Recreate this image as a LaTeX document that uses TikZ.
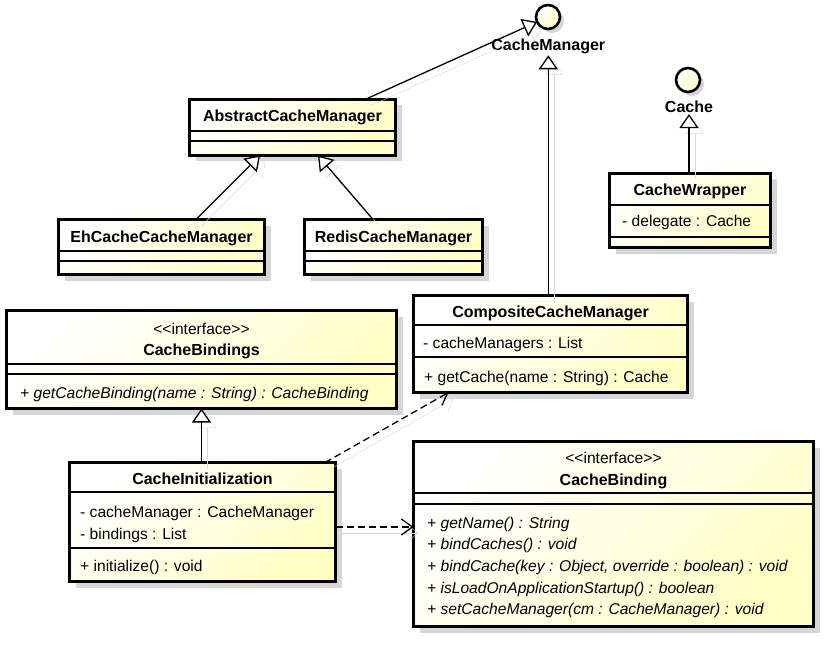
\documentclass[tikz,border=0pt]{standalone}
\usepackage{fontspec}
\setmainfont{Liberation Sans}
\usetikzlibrary{arrows.meta,shadows,backgrounds}
\definecolor{boxyel}{HTML}{FFFFC6}
\definecolor{shadowgray}{HTML}{D6D6D6}
\definecolor{connshadow}{HTML}{DADADA}
\begin{document}
\begin{tikzpicture}[x=1pt,y=-1pt,
  classbox/.style={draw, line width=3pt, inner sep=0pt, outer sep=0pt, anchor=north west,
    top color=white, bottom color=boxyel, shading angle=45,
    drop shadow={shadow xshift=6pt, shadow yshift=-6pt, fill=shadowgray, opacity=1}},
  iface/.style={circle, draw, line width=2.6pt, minimum size=24pt, inner sep=0pt, outer sep=0pt,
    top color=white, bottom color=boxyel, shading angle=45,
    drop shadow={shadow xshift=4pt, shadow yshift=-4pt, fill=shadowgray, opacity=1}},
  sepline/.style={line width=1.2pt},
  title/.style={font=\fontsize{16}{19}\selectfont\bfseries, inner sep=1pt, anchor=base},
  stereo/.style={font=\fontsize{15.6}{19}\selectfont, inner sep=0pt, anchor=base},
  attr/.style={font=\fontsize{15.6}{19}\selectfont, inner sep=0pt, anchor=base west},
  oper/.style={font=\fontsize{15.6}{19}\selectfont\itshape, inner sep=0pt, anchor=base west},
  connshadow/.style={preaction={draw=connshadow, solid, transform canvas={shift={(6pt,-6pt)}}}},
  gen/.style={line width=1.3pt, -{Triangle[length=14pt, width=19pt, line width=1.3pt, fill=white]}, connshadow},
  dep/.style={line width=1.3pt, dash pattern=on 7pt off 4pt, -{Straight Barb[length=11pt, width=16pt, line width=1.3pt]}, connshadow}
]
\useasboundingbox (0,0) rectangle (837,647);
\begin{scope}[on background layer]
  \fill[white] (0,0) rectangle (837,647);
\end{scope}

% interfaces (lollipops)
\node[iface] (cm) at (548,17) {};
\node[title] (cmlbl) at (548.3,50.7) {CacheManager};
\node[iface] (cache) at (688,80) {};
\node[title] (cachelbl) at (689,112.7) {Cache};

% AbstractCacheManager
\node[classbox, minimum width=206pt, minimum height=56pt] (abs) at (189.5,99.5) {};
\draw[sepline] (abs.west |- 0,131) -- (abs.east |- 0,131);
\draw[sepline] (abs.west |- 0,141) -- (abs.east |- 0,141);
\node[title] (absT) at (292.5,122) {AbstractCacheManager};

% EhCacheCacheManager
\node[classbox, minimum width=206pt, minimum height=55pt] (eh) at (58.5,219.5) {};
\draw[sepline] (eh.west |- 0,251) -- (eh.east |- 0,251);
\draw[sepline] (eh.west |- 0,261) -- (eh.east |- 0,261);
\node[title] (ehT) at (161.5,242.7) {EhCacheCacheManager};

% RedisCacheManager
\node[classbox, minimum width=178pt, minimum height=55pt] (redis) at (304.5,219.5) {};
\draw[sepline] (redis.west |- 0,251) -- (redis.east |- 0,251);
\draw[sepline] (redis.west |- 0,261) -- (redis.east |- 0,261);
\node[title] (redisT) at (393.5,242.7) {RedisCacheManager};

% CacheWrapper
\node[classbox, minimum width=161pt, minimum height=74pt] (cw) at (609.5,173.5) {};
\draw[sepline] (cw.west |- 0,205) -- (cw.east |- 0,205);
\draw[sepline] (cw.west |- 0,237) -- (cw.east |- 0,237);
\node[title] (cwT) at (690,196) {CacheWrapper};
\node[attr] (cwA) at (622,226.7) {- delegate : Cache};

% CompositeCacheManager
\node[classbox, minimum width=274pt, minimum height=97pt] (comp) at (413.5,295.5) {};
\draw[sepline] (comp.west |- 0,325) -- (comp.east |- 0,325);
\draw[sepline] (comp.west |- 0,357) -- (comp.east |- 0,357);
\node[title] (compT) at (550.5,317) {CompositeCacheManager};
\node[attr] (compA) at (423,348) {- cacheManagers : List};
\node[attr] (compO) at (424,382) {+ getCache(name : String) : Cache};

% CacheBindings
\node[classbox, minimum width=390pt, minimum height=98pt] (cbs) at (6.5,310.5) {};
\draw[sepline] (cbs.west |- 0,364) -- (cbs.east |- 0,364);
\draw[sepline] (cbs.west |- 0,374) -- (cbs.east |- 0,374);
\node[stereo] (cbsS) at (201.5,334) {<{}<interface>{}>};
\node[title] (cbsT) at (201.5,355) {CacheBindings};
\node[oper] (cbsO) at (20,398) {+ getCacheBinding(name : String) : CacheBinding};

% CacheInitialization
\node[classbox, minimum width=266pt, minimum height=119pt] (cinit) at (69.5,462.5) {};
\draw[sepline] (cinit.west |- 0,492) -- (cinit.east |- 0,492);
\draw[sepline] (cinit.west |- 0,548) -- (cinit.east |- 0,548);
\node[title] (cinitT) at (202.5,484) {CacheInitialization};
\node[attr] (cinitA1) at (80,517) {- cacheManager : CacheManager};
\node[attr] (cinitA2) at (80,539) {- bindings : List};
\node[attr] (cinitO) at (80,571) {+ initialize() : void};

% CacheBinding
\node[classbox, minimum width=400pt, minimum height=185pt] (cb) at (413.5,441.5) {};
\draw[sepline] (cb.west |- 0,493) -- (cb.east |- 0,493);
\draw[sepline] (cb.west |- 0,504) -- (cb.east |- 0,504);
\node[stereo] (cbS) at (613.5,463) {<{}<interface>{}>};
\node[title] (cbT) at (613.5,485) {CacheBinding};
\node[oper] (cbO1) at (427,528) {+ getName() : String};
\node[oper] (cbO2) at (427,549.7) {+ bindCaches() : void};
\node[oper] (cbO3) at (427,571.3) {+ bindCache(key : Object, override : boolean) : void};
\node[oper] (cbO4) at (427,593) {+ isLoadOnApplicationStartup() : boolean};
\node[oper] (cbO5) at (427,614.7) {+ setCacheManager(cm : CacheManager) : void};

% connectors
\draw[gen] ([xshift=175.5pt]abs.north west) -- (cm);
\draw[gen] (comp.north -| cmlbl.south) -- (cmlbl.south);
\draw[gen] (cw.north -| cachelbl.south) -- (cachelbl.south);
\draw[gen] ([xshift=137.5pt]eh.north west) -- ([xshift=70.5pt]abs.south west);
\draw[gen] ([xshift=68.5pt]redis.north west) -- ([xshift=128.5pt]abs.south west);
\draw[gen] (cinit.north -| cbs.south) -- (cbs.south);
\draw[dep] ([xshift=255.5pt]cinit.north west) -- ([xshift=35pt]comp.south west);
\draw[dep] ([yshift=-5pt]cinit.east) coordinate (d1) -- (d1 -| cb.west);
\end{tikzpicture}
\end{document}
